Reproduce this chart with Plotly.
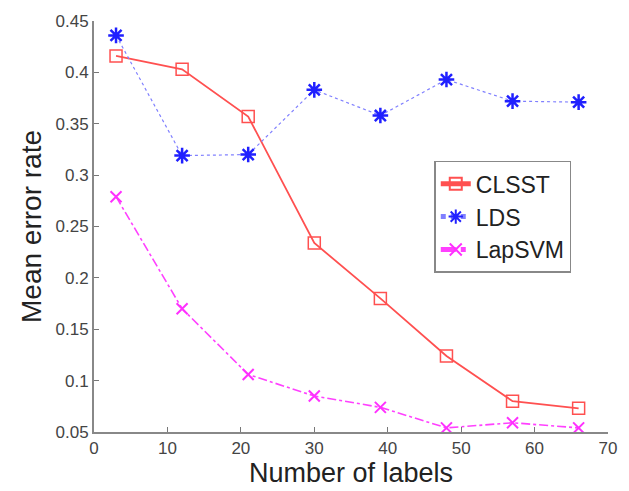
import plotly.graph_objects as go

labels = [3, 12, 21, 30, 39, 48, 57, 66]
clsst = [0.416, 0.403, 0.357, 0.234, 0.180, 0.124, 0.080, 0.073]
lds = [0.436, 0.319, 0.320, 0.383, 0.358, 0.393, 0.372, 0.371]
lapsvm = [0.279, 0.170, 0.106, 0.085, 0.074, 0.054, 0.059, 0.054]

x_ticks = [0, 10, 20, 30, 40, 50, 60, 70]
y_ticks = [0.05, 0.1, 0.15, 0.2, 0.25, 0.3, 0.35, 0.4, 0.45]
y_tick_text = ["0.05", "0.1", "0.15", "0.2", "0.25", "0.3", "0.35", "0.4", "0.45"]

fig = go.Figure()
fig.add_trace(go.Scatter(
    x=labels, y=clsst, name="CLSST", mode="lines+markers",
    line=dict(color="#ff5050", width=1.8),
    marker=dict(symbol="square-open", size=12, color="#ff5050", line=dict(width=1.5)),
))
fig.add_trace(go.Scatter(
    x=labels, y=lds, name="LDS", mode="lines+markers",
    line=dict(color="#8080ff", width=1.2, dash="dot"),
    marker=dict(symbol="asterisk-open", size=13, color="#2020ff", line=dict(width=2.5, color="#2020ff")),
))
fig.add_trace(go.Scatter(
    x=labels, y=lapsvm, name="LapSVM", mode="lines+markers",
    line=dict(color="#ff40ff", width=1.6, dash="dashdot"),
    marker=dict(symbol="x-thin-open", size=11, color="#ff30ff", line=dict(width=2, color="#ff30ff")),
))

fig.update_layout(
    width=629, height=491,
    margin=dict(l=94, r=16, t=20, b=56),
    paper_bgcolor="white", plot_bgcolor="white",
    font=dict(family="Liberation Sans, Arial, sans-serif", color="#333333"),
    showlegend=True,
    legend=dict(
        x=0.662, y=0.66, xanchor="left", yanchor="top",
        bordercolor="#888888", borderwidth=1.5, bgcolor="white",
        font=dict(size=23, color="#222222"),
        tracegroupgap=0, itemsizing="constant",
    ),
    xaxis=dict(
        range=[0, 70], tickvals=x_ticks, ticks="inside", ticklen=5,
        tickcolor="#777777", showline=True, linecolor="#888888", linewidth=2,
        showgrid=False, zeroline=False, tickfont=dict(size=17, color="#444444"),
        title=dict(text="Number of labels", font=dict(size=27, color="#222222"), standoff=2),
    ),
    yaxis=dict(
        range=[0.05, 0.45], tickvals=y_ticks, ticktext=y_tick_text, ticks="inside", ticklen=5,
        tickcolor="#777777", showline=True, linecolor="#888888", linewidth=2,
        showgrid=False, zeroline=False, tickfont=dict(size=17, color="#444444"),
        title=dict(text="Mean error rate", font=dict(size=28, color="#222222"), standoff=6),
    ),
)

fig.write_html("out.html")
